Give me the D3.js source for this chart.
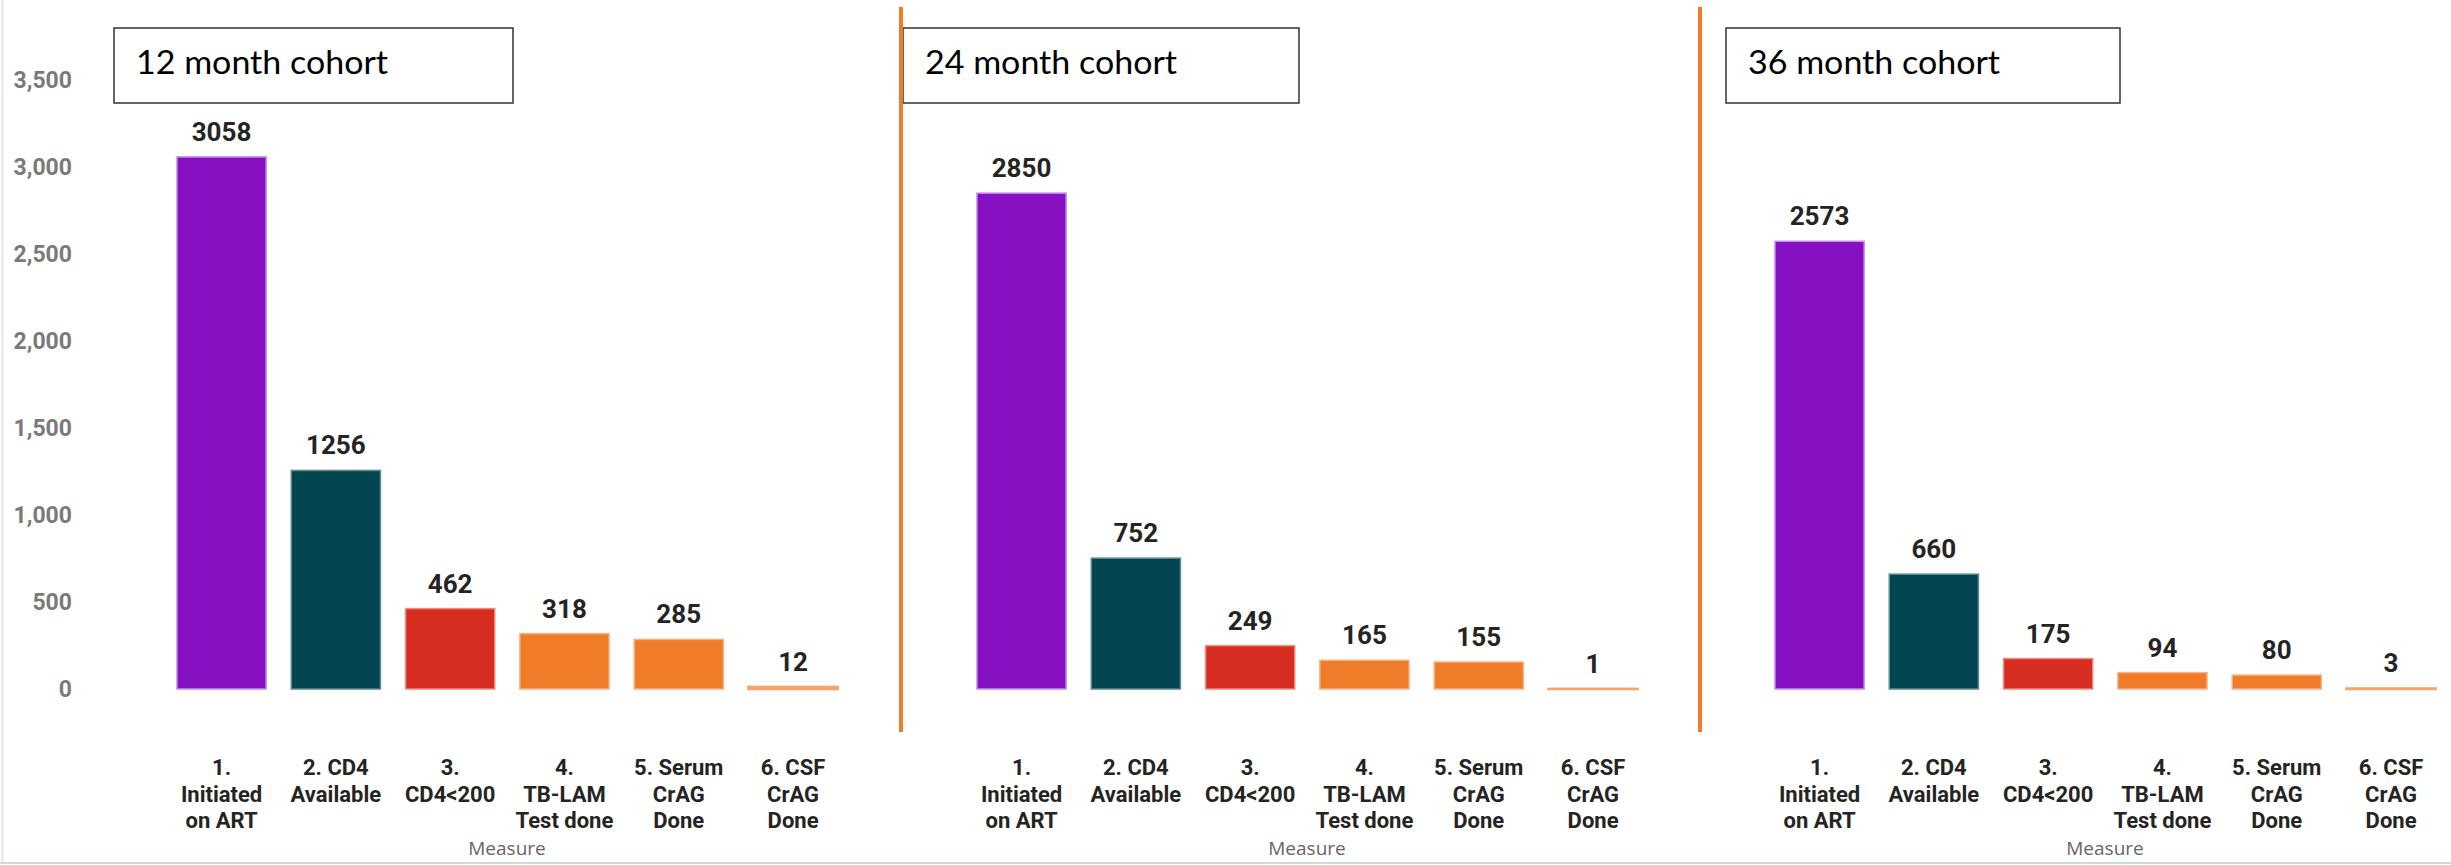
<!DOCTYPE html>
<html>
<head>
<meta charset="utf-8">
<script src="https://cdn.jsdelivr.net/npm/d3@7"></script>
<style>
  body { margin: 0; background: #fff; }
  svg { display: block; }
</style>
</head>
<body>
<div id="container"></div>
<script>
// data
const cohorts = ["12 month cohort", "24 month cohort", "36 month cohort"];
const measures = ["1. Initiated on ART", "2. CD4 Available", "3. CD4<200", "4. TB-LAM Test done", "5. Serum CrAG Done", "6. CSF CrAG Done"];
const measureLines = [
    ["1.", "Initiated", "on ART"],
    ["2. CD4", "Available"],
    ["3.", "CD4<200"],
    ["4.", "TB-LAM", "Test done"],
    ["5. Serum", "CrAG", "Done"],
    ["6. CSF", "CrAG", "Done"]
];
const values12 = [3058, 1256, 462, 318, 285, 12];
const values24 = [2850, 752, 249, 165, 155, 1];
const values36 = [2573, 660, 175, 94, 80, 3];
const yTicks = [0, 500, 1000, 1500, 2000, 2500, 3000, 3500];

const barColors = ["#8511C2", "#024651", "#D72D20", "#F07B28", "#F07B28", "#F07B28"];
const edgeColors = ["#C98EEA", "#5E8A90", "#EE8A80", "#F6B183", "#F6B183", "#F6A46C"];

const width = 2451, height = 865;
const panelOffsets = [0, 800, 1598];
const boxLeft = [114, 903, 1726];
const boxWidth = [399, 396, 394];

const svg = d3.select("#container").append("svg")
    .attr("width", width)
    .attr("height", height);

svg.append("rect").attr("width", width).attr("height", height).attr("fill", "#fff");

// frame lines of the original screenshot
svg.append("line")
    .attr("x1", 2.5).attr("x2", 2.5).attr("y1", 0).attr("y2", 862)
    .attr("stroke", "#e6e6e6").attr("stroke-width", 2);
svg.append("line")
    .attr("x1", 0).attr("x2", width).attr("y1", 863).attr("y2", 863)
    .attr("stroke", "#c9ddd2").attr("stroke-width", 2);

const y = d3.scaleLinear()
    .domain([0, 3500])
    .range([689, 80]);

// y axis, only on the first panel
const yAxis = svg.append("g")
    .attr("transform", "translate(80,0)")
    .call(d3.axisLeft(y).tickValues(yTicks).tickFormat(d3.format(",")).tickSize(0).tickPadding(8));
yAxis.select(".domain").remove();
yAxis.selectAll("text")
    .style("font-family", "Roboto, sans-serif")
    .style("font-weight", "700")
    .style("font-size", "23px")
    .attr("fill", "#7a7a7a");

const allValues = [values12, values24, values36];

allValues.forEach((vals, i) => {
    const off = panelOffsets[i];
    const x = d3.scaleBand()
        .domain(measures)
        .range([off + 164.4, off + 850.2])
        .paddingInner(0.22)
        .paddingOuter(0.11);

    const g = svg.append("g");
    const rows = measures.map((m, j) => ({ m: m, v: vals[j], j: j }));

    g.selectAll(".bar")
        .data(rows)
        .enter().append("rect")
        .attr("class", "bar")
        .attr("x", d => x(d.m))
        .attr("width", x.bandwidth())
        .attr("y", d => y(d.v))
        .attr("height", d => y(0) - y(d.v))
        .attr("fill", d => barColors[d.j])
        .attr("stroke", d => edgeColors[d.j])
        .attr("stroke-width", d => d.j === 5 ? 2.5 : 1.5);

    g.selectAll(".val")
        .data(rows)
        .enter().append("text")
        .attr("class", "val")
        .attr("x", d => x(d.m) + x.bandwidth() / 2)
        .attr("y", d => y(d.v) - 16)
        .attr("text-anchor", "middle")
        .style("font-family", "Roboto, sans-serif")
        .style("font-weight", "700")
        .style("font-size", "26px")
        .attr("fill", "#252423")
        .text(d => d.v);

    // category axis with wrapped labels
    const xAxis = g.append("g")
        .attr("transform", "translate(0,689)")
        .call(d3.axisBottom(x).tickSize(0).tickFormat(""));
    xAxis.select(".domain").remove();
    xAxis.selectAll(".tick").each(function(d, j) {
        const t = d3.select(this).append("text")
            .attr("text-anchor", "middle")
            .attr("fill", "#252423")
            .style("font-family", "Roboto, sans-serif")
            .style("font-weight", "700")
            .style("font-size", "22px");
        measureLines[j].forEach((line, k) => {
            t.append("tspan")
                .attr("x", 0)
                .attr("y", 86 + k * 26.5)
                .text(line);
        });
    });

    g.append("text")
        .attr("x", off + 507)
        .attr("y", 855)
        .attr("text-anchor", "middle")
        .style("font-family", "'Open Sans', sans-serif")
        .style("font-size", "19px")
        .attr("fill", "#666")
        .text("Measure");

    // title box
    g.append("rect")
        .attr("x", boxLeft[i])
        .attr("y", 28)
        .attr("width", boxWidth[i])
        .attr("height", 75)
        .attr("fill", "#fff")
        .attr("stroke", "#333")
        .attr("stroke-width", 1.5);
    g.append("text")
        .attr("x", boxLeft[i] + 22)
        .attr("y", 74)
        .style("font-family", "Lato, sans-serif")
        .style("font-size", "33px")
        .attr("fill", "#000")
        .attr("textLength", 252)
        .attr("lengthAdjust", "spacingAndGlyphs")
        .text(cohorts[i]);
});

// orange dividers between cohorts
svg.selectAll(".divider")
    .data([901, 1700])
    .enter().append("line")
    .attr("class", "divider")
    .attr("x1", d => d).attr("x2", d => d)
    .attr("y1", 7).attr("y2", 732)
    .attr("stroke", "#F07B28")
    .attr("stroke-width", 4);
</script>
</body>
</html>
